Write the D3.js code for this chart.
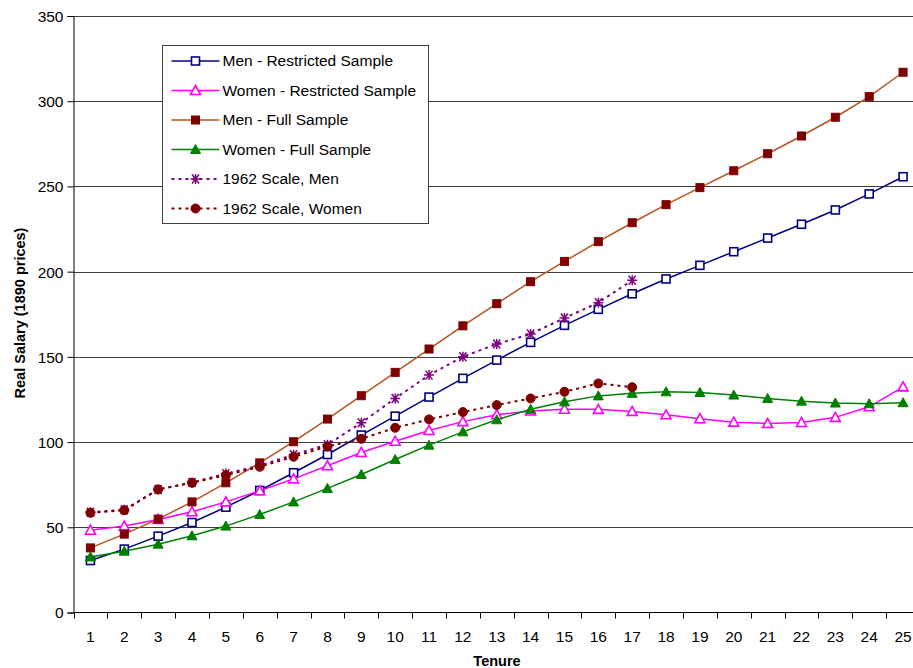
<html>
<head>
<meta charset="utf-8">
<script src="https://d3js.org/d3.v7.min.js"></script>
<style>
  body { margin: 0; background: #fff; }
  text { font-family: Arial, "Liberation Sans", sans-serif; fill: #000; }
  .grid line { stroke: #404040; stroke-width: 1px; }
</style>
</head>
<body>
<script>
// data
var tenure = d3.range(1, 26);
var menRestricted   = [30.5,37.2,44.8,52.8,61.8,71.6,82,92.7,104.1,115.2,126.4,137.4,148.1,158.5,168.5,177.9,187,195.7,203.7,211.7,219.7,227.8,236.2,245.6,255.7];
var womenRestricted = [48.3,50.7,54.6,59.1,64.9,71.4,78.4,86.1,93.9,100.5,106.8,112,116,118.2,119.3,119.2,118,116,113.7,111.7,110.9,111.5,114.5,120.7,132.4];
var menFull         = [37.9,46,54.8,64.9,76.1,87.8,100.2,113.5,127.2,140.9,154.6,168.2,181.2,194.1,206,217.6,228.7,239.3,249.3,259.2,269.2,279.6,290.6,302.7,317];
var womenFull       = [32.6,36,40.1,45,50.7,57.5,64.9,72.8,81,89.8,98.2,106,113.1,119.2,123.6,127.1,128.6,129.5,129.1,127.6,125.6,124,122.9,122.5,123.1];
var scale1962Men    = [58.8,60.3,72.2,76.3,81.5,86.2,92.6,98.5,111.3,125.6,139.3,150.1,157.5,163.4,172.8,181.8,194.9];
var scale1962Women  = [58.5,60,72.2,76.1,80.6,85.5,91.4,97.4,101.9,108.4,113.3,117.6,121.7,125.6,129.5,134.4,132.2];
var yTicks = [0, 50, 100, 150, 200, 250, 300, 350];

var series = [
  { name: "Men - Restricted Sample",   values: menRestricted,   line: "#000080", marker: "square",   fill: "#fff",    stroke: "#000080", dash: null },
  { name: "Women - Restricted Sample", values: womenRestricted, line: "#ff00ff", marker: "triangle", fill: "#fff",    stroke: "#ff00ff", dash: null },
  { name: "Men - Full Sample",         values: menFull,         line: "#b5541e", marker: "square",   fill: "#800000", stroke: "#800000", dash: null },
  { name: "Women - Full Sample",       values: womenFull,       line: "#008000", marker: "triangle", fill: "#008000", stroke: "#008000", dash: null },
  { name: "1962 Scale, Men",           values: scale1962Men,    line: "#800080", marker: "star",     fill: "none",    stroke: "#800080", dash: "3,4" },
  { name: "1962 Scale, Women",         values: scale1962Women,  line: "#800000", marker: "circle",   fill: "#800000", stroke: "#800000", dash: "3,4" }
];

var width = 913, height = 668;
var plot = { left: 73.5, right: 920, top: 16, bottom: 612.5 };

var svg = d3.select("body").append("svg")
  .attr("width", width)
  .attr("height", height);

var x = d3.scaleBand()
  .domain(tenure)
  .range([plot.left, plot.right]);

var y = d3.scaleLinear()
  .domain([0, 350])
  .range([plot.bottom, plot.top]);

// gridlines
svg.append("g").attr("class", "grid")
  .selectAll("line")
  .data(yTicks.filter(function (d) { return d > 0; }))
  .enter().append("line")
  .attr("x1", plot.left).attr("x2", plot.right)
  .attr("y1", function (d) { return Math.round(y(d)) + 0.5; })
  .attr("y2", function (d) { return Math.round(y(d)) + 0.5; });

// y axis
var yAxis = svg.append("g")
  .attr("transform", "translate(" + plot.left + ",0)")
  .call(d3.axisLeft(y).tickValues(yTicks).tickSize(6).tickPadding(4));
yAxis.selectAll("text").style("font-size", "15.5px").attr("dy", "0.35em");
yAxis.selectAll("line, path").attr("stroke", "#000");

// x axis, ticks between categories
var xAxis = svg.append("g")
  .attr("transform", "translate(0," + plot.bottom + ")");
xAxis.append("line")
  .attr("x1", plot.left).attr("x2", plot.right)
  .attr("stroke", "#000");
xAxis.selectAll(".tk")
  .data(tenure)
  .enter().append("line")
  .attr("class", "tk")
  .attr("x1", function (d) { return Math.round(x(d)) + 0.5; })
  .attr("x2", function (d) { return Math.round(x(d)) + 0.5; })
  .attr("y1", 0).attr("y2", 6)
  .attr("stroke", "#000");
xAxis.selectAll(".lb")
  .data(tenure)
  .enter().append("text")
  .attr("class", "lb")
  .attr("x", function (d) { return x(d) + x.bandwidth() / 2; })
  .attr("y", 29)
  .attr("text-anchor", "middle")
  .style("font-size", "15.5px")
  .text(function (d) { return d; });

// axis titles
svg.append("text")
  .attr("x", 497).attr("y", 666)
  .attr("text-anchor", "middle")
  .style("font-size", "14.5px").style("font-weight", "bold")
  .text("Tenure");
svg.append("text")
  .attr("transform", "translate(25,313) rotate(-90)")
  .attr("text-anchor", "middle")
  .style("font-size", "14.5px").style("font-weight", "bold")
  .text("Real Salary (1890 prices)");

function cx(i) { return x(tenure[i]) + x.bandwidth() / 2; }

function drawMarker(sel, s) {
  if (s.marker === "square") {
    sel.append("rect")
      .attr("x", -4).attr("y", -4).attr("width", 8).attr("height", 8)
      .attr("fill", s.fill).attr("stroke", s.stroke).attr("stroke-width", s.fill === "#fff" ? 1.6 : 1);
  } else if (s.marker === "triangle") {
    sel.append("path")
      .attr("d", "M0,-5L5,4L-5,4Z")
      .attr("fill", s.fill).attr("stroke", s.stroke).attr("stroke-width", s.fill === "#fff" ? 1.6 : 1);
  } else if (s.marker === "circle") {
    sel.append("circle").attr("r", 4.5)
      .attr("fill", s.fill).attr("stroke", s.stroke);
  } else if (s.marker === "star") {
    sel.append("path")
      .attr("d", "M-5,0L5,0M-3.5,-4.5L3.5,4.5M-3.5,4.5L3.5,-4.5M0,-5L0,5")
      .attr("fill", "none").attr("stroke", s.stroke).attr("stroke-width", 1.5);
  }
}

var line = d3.line()
  .x(function (d, i) { return cx(i); })
  .y(function (d) { return y(d); });

series.forEach(function (s) {
  var g = svg.append("g");
  g.append("path")
    .datum(s.values)
    .attr("d", line)
    .attr("fill", "none")
    .attr("stroke", s.line)
    .attr("stroke-width", s.dash ? 2 : 1.5)
    .attr("stroke-dasharray", s.dash);
  g.selectAll(".m")
    .data(s.values)
    .enter().append("g")
    .attr("class", "m")
    .attr("transform", function (d, i) { return "translate(" + cx(i) + "," + y(d) + ")"; })
    .each(function () { drawMarker(d3.select(this), s); });
});

// legend
var lg = svg.append("g").attr("transform", "translate(162.5,45.5)");
lg.append("rect")
  .attr("width", 266).attr("height", 178)
  .attr("fill", "#fff").attr("stroke", "#404040");
series.forEach(function (s, i) {
  var row = lg.append("g").attr("transform", "translate(0," + (15.5 + i * 29.5) + ")");
  row.append("line")
    .attr("x1", 9).attr("x2", 57)
    .attr("stroke", s.line)
    .attr("stroke-width", s.dash ? 2 : 1.5)
    .attr("stroke-dasharray", s.dash);
  var m = row.append("g").attr("transform", "translate(33,0)");
  drawMarker(m, s);
  row.append("text")
    .attr("x", 60).attr("y", 0).attr("dy", "0.35em")
    .style("font-size", "15.5px")
    .text(s.name);
});
</script>
</body>
</html>
